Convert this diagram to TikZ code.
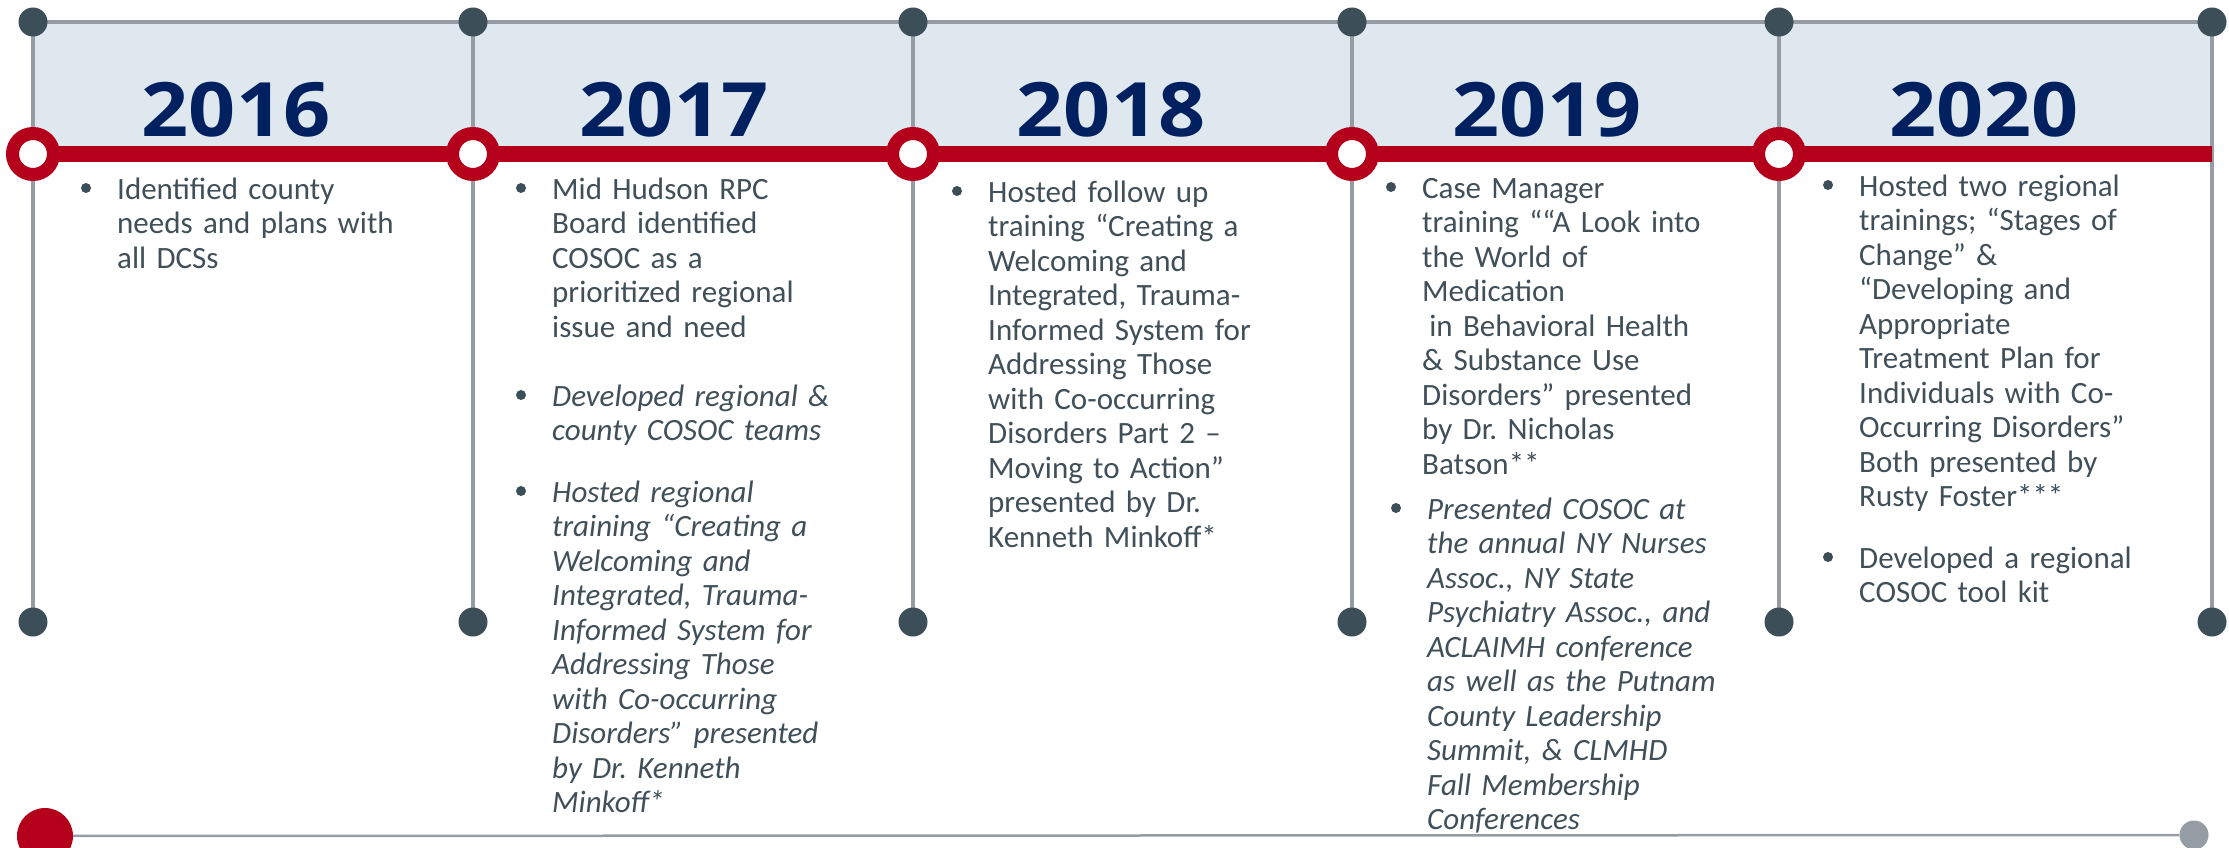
\documentclass[tikz,border=0pt]{standalone}
\usepackage{fontspec}
\usepackage{graphicx}
\setmainfont{Carlito}
\newfontfamily\yearfont{Open Sans}
\usetikzlibrary{positioning}
\frenchspacing

\definecolor{bandblue}{HTML}{DFE7EF}
\definecolor{railgray}{HTML}{959CA4}
\definecolor{dotslate}{HTML}{3C4E57}
\definecolor{mainred}{HTML}{B5001C}
\definecolor{yearblue}{HTML}{002060}
\definecolor{bodytext}{HTML}{404F58}

\tikzset{
	year/.style={anchor=base, inner sep=0pt, text=yearblue, font=\yearfont\bfseries\fontsize{75}{75}\selectfont},
	item/.style={anchor=base west, inner sep=0pt, text width=330pt, align=left, text=bodytext, font=\fontsize{31}{34.5}\selectfont},
	bullet/.style={circle, fill=dotslate, minimum size=10pt, inner sep=0pt},
	enddot/.style={circle, fill=dotslate, minimum size=29pt, inner sep=0pt},
	ring/.style={circle, draw=mainred, line width=13pt, fill=white, minimum size=41pt, inner sep=0pt},
	rail/.style={draw=railgray, line width=3.5pt},
}

\begin{document}
\begin{tikzpicture}[x=1pt, y=-1pt]
	\useasboundingbox (0,0) rectangle (2229,848);
	\clip (0,0) rectangle (2229,848);
	
	% Band behind the years
	\fill[bandblue] (33,22) rectangle (2212,150);
	
	% Column positions
	\foreach \i/\x in {1/33, 2/473, 3/913, 4/1352, 5/1779, 6/2212} {
		\coordinate (top\i) at (\x,22);
		\coordinate (mid\i) at (\x,154);
		\coordinate (bot\i) at (\x,622);
	}
	
	% Rails
	\draw[rail] (top1) -- (top6);
	\foreach \i in {1,...,6} \draw[rail] (top\i) -- (bot\i);
	\draw[mainred, line width=16pt] (mid1) -- (mid6);
	\foreach \i in {1,...,6} {
		\node[enddot] (tdot\i) at (top\i) {};
		\node[enddot] (bdot\i) at (bot\i) {};
	}
	\foreach \i in {1,...,5} \node[ring] (ring\i) at (mid\i) {};
	
	% Years
	\node[year] (y2016) at (236,137) {\scalebox{1.1}[1]{2016}};
	\node[year] (y2017) at (674,137) {\scalebox{1.1}[1]{2017}};
	\node[year] (y2018) at (1111,137) {\scalebox{1.1}[1]{2018}};
	\node[year] (y2019) at (1547,137) {\scalebox{1.1}[1]{2019}};
	\node[year] (y2020) at (1984,137) {\scalebox{1.1}[1]{2020}};
	
	% Items
	\node[item] (i2016a) at (117,199) {Identified county\\needs and plans with\\all DCSs};
	\node[item] (i2017a) at (552,199) {Mid Hudson RPC\\Board identified\\COSOC as a\\prioritized regional\\issue and need};
	\node[item, font=\fontsize{31}{34.5}\selectfont\itshape] (i2017b) at (552,406) {Developed regional \&\\county COSOC teams};
	\node[item, font=\fontsize{31}{34.5}\selectfont\itshape] (i2017c) at (552,502) {Hosted regional\\training “Creating a\\Welcoming and\\Integrated, Trauma-\\Informed System for\\Addressing Those\\with Co-occurring\\Disorders” presented\\by Dr. Kenneth\\Minkoff*};
	\node[item] (i2018a) at (988,202) {Hosted follow up\\training “Creating a\\Welcoming and\\Integrated, Trauma-\\Informed System for\\Addressing Those\\with Co-occurring\\Disorders Part 2 –\\Moving to Action”\\presented by Dr.\\Kenneth Minkoff*};
	\node[item] (i2019a) at (1422,198) {Case Manager\\training ““A Look into\\the World of\\Medication\\\hspace*{0.23em}in Behavioral Health\\\& Substance Use\\Disorders” presented\\by Dr. Nicholas\\Batson**};
	\node[item, font=\fontsize{31}{34.5}\selectfont\itshape] (i2019b) at (1427,519) {Presented COSOC at\\the annual NY Nurses\\Assoc., NY State\\Psychiatry Assoc., and\\ACLAIMH conference\\as well as the Putnam\\County Leadership\\Summit, \& CLMHD\\Fall Membership\\Conferences};
	\node[item] (i2020a) at (1859,196) {Hosted two regional\\trainings; “Stages of\\Change” \&\\“Developing and\\Appropriate\\Treatment Plan for\\Individuals with Co-\\Occurring Disorders”\\Both presented by\\Rusty Foster***};
	\node[item] (i2020b) at (1859,568) {Developed a regional\\COSOC tool kit};
	
	% Bullets
	\foreach \n in {i2016a, i2017a, i2017b, i2017c, i2018a, i2019a, i2019b, i2020a, i2020b}
		\node[bullet] (b\n) at ([shift={(-31,-11)}]\n.base west) {};
	
	% Bottom line
	\node[circle, fill=mainred, minimum size=56pt, inner sep=0pt] (start) at (45,836) {};
	\node[circle, fill=railgray, minimum size=29pt, inner sep=0pt] (finish) at (2194,835) {};
	\draw[railgray, line width=2.5pt] (start) -- (finish);
	
\end{tikzpicture}
\end{document}
